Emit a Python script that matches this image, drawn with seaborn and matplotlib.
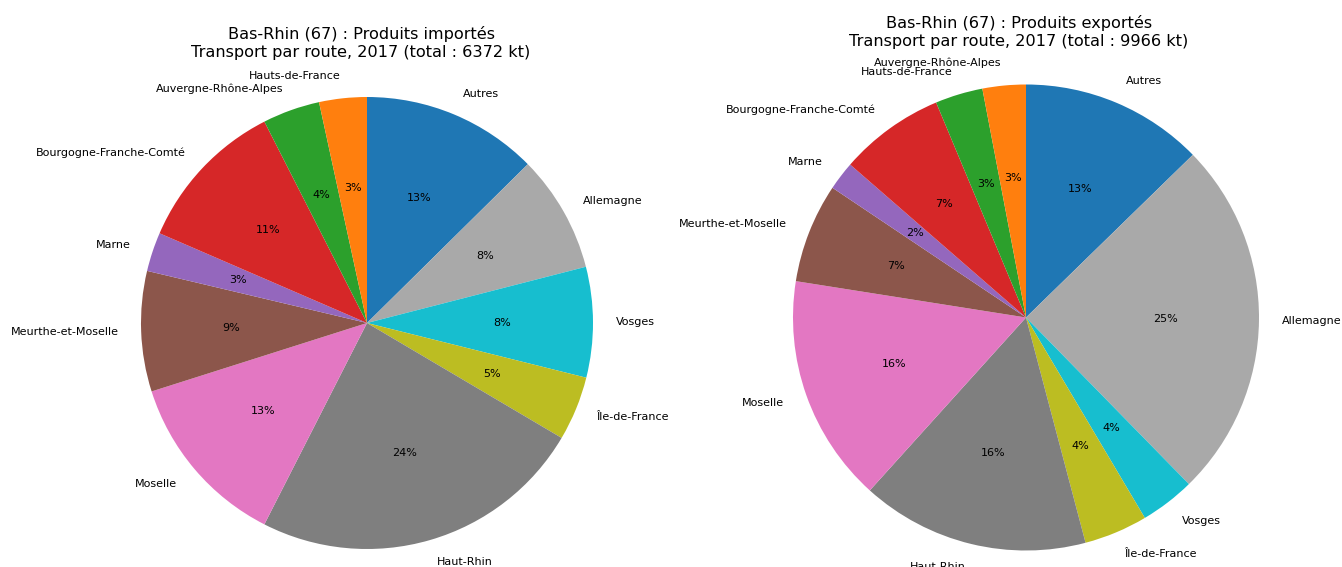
import matplotlib
matplotlib.use("Agg")
import matplotlib.pyplot as plt
import seaborn as sns

sns.set_style("white")
plt.rcParams["font.family"] = ["DejaVu Sans"]
plt.rcParams["text.color"] = "black"

# Regions, listed clockwise from the top of each pie
import_regions = ["Autres", "Allemagne", "Vosges", "Île-de-France", "Haut-Rhin",
                  "Moselle", "Meurthe-et-Moselle", "Marne",
                  "Bourgogne-Franche-Comté", "Auvergne-Rhône-Alpes", "Hauts-de-France"]
export_regions = ["Autres", "Allemagne", "Vosges", "Île-de-France", "Haut-Rhin",
                  "Moselle", "Meurthe-et-Moselle", "Marne",
                  "Bourgogne-Franche-Comté", "Hauts-de-France", "Auvergne-Rhône-Alpes"]

# Tonnages in kt
imports_kt = [803, 535, 503, 293, 1530, 803, 548, 178, 701, 261, 217]
exports_kt = [1266, 2489, 379, 439, 1575, 1575, 688, 199, 728, 329, 299]

titles = ["Bas-Rhin (67) : Produits importés\nTransport par route, 2017 (total : {} kt)",
          "Bas-Rhin (67) : Produits exportés\nTransport par route, 2017 (total : {} kt)"]

tab = sns.color_palette("tab10")
colors = [tab[0], "#a9a9a9", tab[9], tab[8], tab[7], tab[6], tab[5], tab[4],
          tab[3], tab[2], tab[1]]

W, H = 1342, 567
fig = plt.figure(figsize=(W / 100, H / 100), dpi=100)

# (pie left px, pie top px, diameter px, title centre x px, title centre y px)
layout = [(141, 97, 452, 361, 43), (793, 84.5, 466, 1019, 32)]

for vals, labels, title, (lx, ty, d, tx, tyc) in zip(
        [imports_kt, exports_kt], [import_regions, export_regions], titles, layout):
    ax = fig.add_axes([lx / W, (H - ty - d) / H, d / W, d / H])
    ax.pie(vals, labels=labels, colors=colors, autopct="%1.0f%%",
           startangle=90, counterclock=False,
           wedgeprops={"linewidth": 0},
           textprops={"fontsize": 8, "color": "black"})
    ax.set_xlim(-1, 1)
    ax.set_ylim(-1, 1)
    ax.set_aspect("equal")
    ax.axis("off")
    fig.text(tx / W, 1 - tyc / H, title.format(sum(vals)), ha="center", va="center",
             fontsize=11.6, linespacing=1.3, color="black")

fig.savefig("out.png", dpi=100)
